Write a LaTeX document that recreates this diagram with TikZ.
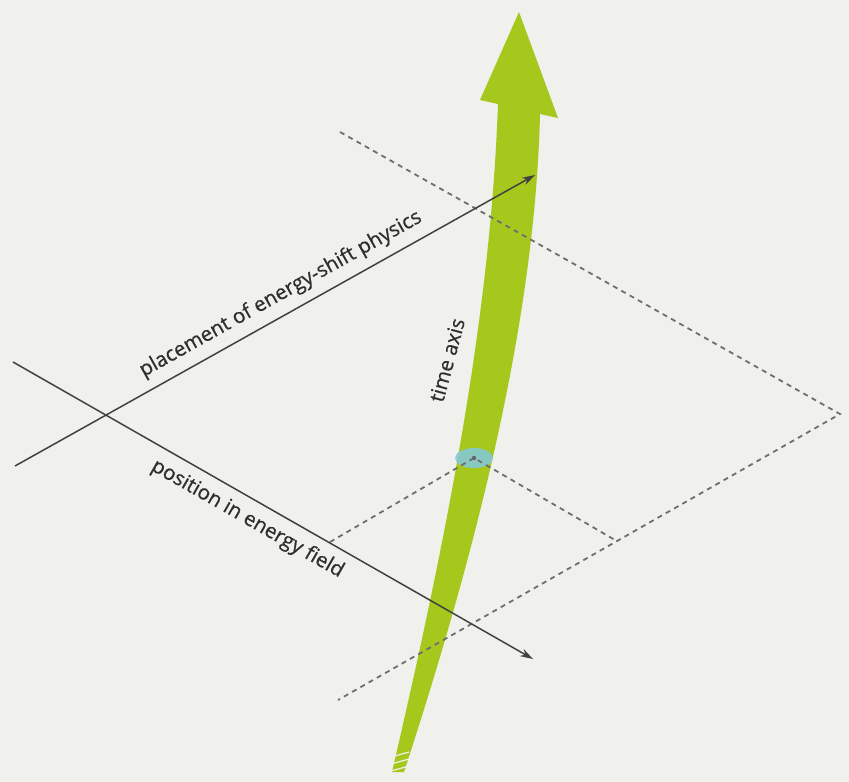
\documentclass[tikz,border=0pt]{standalone}
\usepackage{fontspec}
\setmainfont{Open Sans}
\newfontfamily\labelfont{Open Sans}[FakeBold=0.6]
\usetikzlibrary{arrows.meta}
\definecolor{paper}{RGB}{240,240,236}
\definecolor{timegreen}{RGB}{166,200,28}
\definecolor{linegray}{RGB}{65,65,65}
\definecolor{dashgray}{RGB}{110,110,110}
\definecolor{ringblue}{RGB}{130,200,222}

\begin{document}
\begin{tikzpicture}[x=1pt,y=-1pt,
  fieldline/.style={linegray, line width=1.5pt, -{Stealth[length=13pt,width=8pt]}},
  gridline/.style={dashgray, line width=1.8pt, dash pattern=on 5pt off 4.5pt},
  axistext/.style={font=\labelfont\fontsize{20.5}{24}\selectfont, text=black!82, inner sep=1pt}]
\useasboundingbox (0,0) rectangle (849,782);
\fill[paper] (0,0) rectangle (849,782);
\coordinate (far) at (340,132);
\coordinate (corner) at (840,414);
\coordinate (near) at (338,700);
\coordinate (ring) at (474,458);
\coordinate (gl) at (330,542);
\coordinate (gr) at (615,540);
\coordinate (a0) at (15,466);
\coordinate (a1) at (535,175);
\coordinate (b0) at (13,362);
\coordinate (b1) at (533,659);
\fill[timegreen] (392,772) .. controls (440,565) and (490,330) .. (498,104) -- (480,100) -- (519,12) -- (558,118) -- (540,114) .. controls (535,330) and (470,570) .. (404,772) -- cycle;
\foreach \y in {755,762,769}
  \draw[paper, line width=1.2pt] (391,\y+2) -- (409,\y-3);
\fill[ringblue, opacity=0.85] (ring) ellipse [x radius=19, y radius=10];
\draw[gridline] (far) -- (corner) -- (near);
\draw[gridline] (gl) -- (ring) -- (gr);
\fill[linegray!80] (ring) circle (2.2);
\draw[fieldline] (a0) -- node[sloped, above=8pt, pos=0.53, axistext] {placement of energy-shift physics} (a1);
\draw[fieldline] (b0) -- node[sloped, below=8pt, pos=0.47, axistext] {position in energy field} (b1);
\node[axistext, rotate=75] (timelabel) at (447,360) {time axis};
\end{tikzpicture}
\end{document}
